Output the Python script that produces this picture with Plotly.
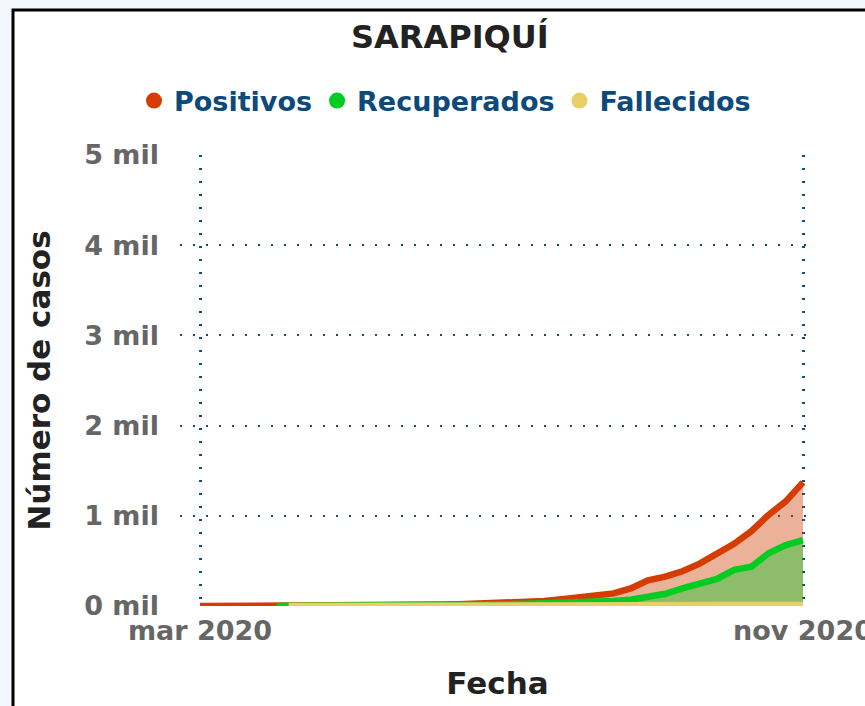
import plotly.graph_objects as go

# ---------------- data ----------------
fechas_positivos = [
    '2020-03-01', '2020-03-08', '2020-03-15', '2020-03-22', '2020-03-29',
    '2020-04-05', '2020-04-12', '2020-04-19', '2020-04-26', '2020-05-03',
    '2020-05-10', '2020-05-17', '2020-05-24', '2020-05-31', '2020-06-07',
    '2020-06-14', '2020-06-21', '2020-06-28', '2020-07-05', '2020-07-12',
    '2020-07-19', '2020-07-26', '2020-08-02', '2020-08-09', '2020-08-16',
    '2020-08-23', '2020-08-30', '2020-09-06', '2020-09-13', '2020-09-20',
    '2020-09-27', '2020-10-04', '2020-10-11', '2020-10-18', '2020-10-25',
    '2020-11-01']
positivos = [0, 0, 1, 2, 3, 4, 5, 6, 7, 8,
             9, 10, 12, 14, 17, 20, 24, 29, 34, 40,
             55, 75, 95, 110, 140, 195, 285, 325, 385, 470,
             580, 690, 830, 1010, 1160, 1370]

fechas_recuperados = [
    '2020-04-01', '2020-04-05', '2020-04-12', '2020-04-19', '2020-04-26',
    '2020-05-03', '2020-05-10', '2020-05-17', '2020-05-24', '2020-05-31',
    '2020-06-07', '2020-06-14', '2020-06-21', '2020-06-28', '2020-07-05',
    '2020-07-12', '2020-07-19', '2020-07-26', '2020-08-02', '2020-08-09',
    '2020-08-16', '2020-08-23', '2020-08-30', '2020-09-06', '2020-09-13',
    '2020-09-20', '2020-09-27', '2020-10-04', '2020-10-11', '2020-10-18',
    '2020-10-25', '2020-11-01']
recuperados = [0, 0, 1, 2, 3, 4, 5, 6, 7, 8,
               9, 11, 13, 16, 20, 24, 28, 33, 38, 45,
               55, 70, 95, 135, 195, 250, 300, 400, 435, 585,
               675, 730]

fechas_fallecidos = [
    '2020-04-06', '2020-04-12', '2020-04-19', '2020-04-26', '2020-05-03',
    '2020-05-10', '2020-05-17', '2020-05-24', '2020-05-31', '2020-06-07',
    '2020-06-14', '2020-06-21', '2020-06-28', '2020-07-05', '2020-07-12',
    '2020-07-19', '2020-07-26', '2020-08-02', '2020-08-09', '2020-08-16',
    '2020-08-23', '2020-08-30', '2020-09-06', '2020-09-13', '2020-09-20',
    '2020-09-27', '2020-10-04', '2020-10-11', '2020-10-18', '2020-10-25',
    '2020-11-01']
fallecidos = [0, 0, 0, 0, 0, 0, 0, 0, 0, 0,
              0, 0, 0, 0, 1, 1, 1, 1, 2, 2,
              3, 3, 4, 4, 5, 6, 7, 8, 9, 10,
              11]

series_nombres = ['Positivos', 'Recuperados', 'Fallecidos']
x_tick_fechas = ['2020-03-01', '2020-11-01']
x_tick_textos = ['mar 2020', 'nov 2020']
y_tick_valores = [0, 1000, 2000, 3000, 4000, 5000]
y_tick_textos = ['0 mil', '1 mil', '2 mil', '3 mil', '4 mil', '5 mil']

# ---------------- style ----------------
FONT = 'DejaVu Sans'
C_POS = '#d63c00'
C_REC = '#00cc22'
C_FAL = '#e8cf68'
GRID = '#0b4f80'

fig = go.Figure()
fig.add_trace(go.Scatter(
    x=fechas_positivos, y=positivos, mode='lines', name=series_nombres[0],
    line=dict(color=C_POS, width=6.5), fill='tozeroy',
    fillcolor='rgba(208,62,0,0.4)', showlegend=False))
fig.add_trace(go.Scatter(
    x=fechas_recuperados, y=recuperados, mode='lines', name=series_nombres[1],
    line=dict(color=C_REC, width=6.5), fill='tozeroy',
    fillcolor='rgba(0,204,34,0.4)', showlegend=False))
fig.add_trace(go.Scatter(
    x=fechas_fallecidos, y=fallecidos, mode='lines', name=series_nombres[2],
    line=dict(color=C_FAL, width=6.5), showlegend=False))

# legend entries with round markers
for nombre, color in zip(series_nombres, [C_POS, C_REC, C_FAL]):
    fig.add_trace(go.Scatter(x=[None], y=[None], mode='markers', name=nombre,
                             marker=dict(color=color, size=20)))

# white framed card
fig.add_shape(type='rect', xref='paper', yref='paper',
              x0=-0.263, x1=1.3, y0=-0.4, y1=1.3215,
              line=dict(color='black', width=3), fillcolor='white',
              layer='below')

fig.update_layout(
    width=865, height=706,
    margin=dict(l=180, r=50, t=155, b=100, autoexpand=False),
    paper_bgcolor='#f4f8fe', plot_bgcolor='rgba(0,0,0,0)',
    font=dict(family=FONT),
    title=dict(text='SARAPIQUÍ', x=0.425, xref='paper', xanchor='center',
               y=1 - 37 / 706, yref='container', yanchor='middle',
               font=dict(family=FONT, size=32, color='#222222', weight='bold')),
    legend=dict(orientation='h', x=445 / 865, xanchor='center',
                y=1 - 101 / 706, yanchor='middle',
                xref='container', yref='container',
                font=dict(family=FONT, size=27, color='#0b4a7a', weight='bold'),
                bgcolor='rgba(0,0,0,0)'),
    xaxis=dict(
        type='date', range=['2020-02-21 21:00', '2020-11-05 21:00'],
        automargin=False,
        tickmode='array', tickvals=x_tick_fechas, ticktext=x_tick_textos,
        tickfont=dict(family=FONT, size=27, color='#666666', weight='bold'),
        ticklabelstandoff=6, ticklabeloverflow='allow',
        showgrid=True, gridcolor=GRID, gridwidth=3, griddash='2px,11px',
        zeroline=False, showline=False,
        title=dict(text='Fecha', standoff=27,
                   font=dict(family=FONT, size=31, color='#222222', weight='bold'))),
    yaxis=dict(
        range=[0, 5000], automargin=False,
        tickmode='array', tickvals=y_tick_valores, ticktext=y_tick_textos,
        tickfont=dict(family=FONT, size=27, color='#666666', weight='bold'),
        ticklabelstandoff=20,
        showgrid=True, gridcolor=GRID, gridwidth=2, griddash='2px,11px',
        zeroline=False, showline=False,
        title=dict(text='Número de casos', standoff=24,
                   font=dict(family=FONT, size=31, color='#222222', weight='bold'))),
)

fig.write_html('out.html',
               config={'displayModeBar': False},
               post_script="document.body.style.margin='0px';"
                           "document.body.style.overflow='hidden';")
